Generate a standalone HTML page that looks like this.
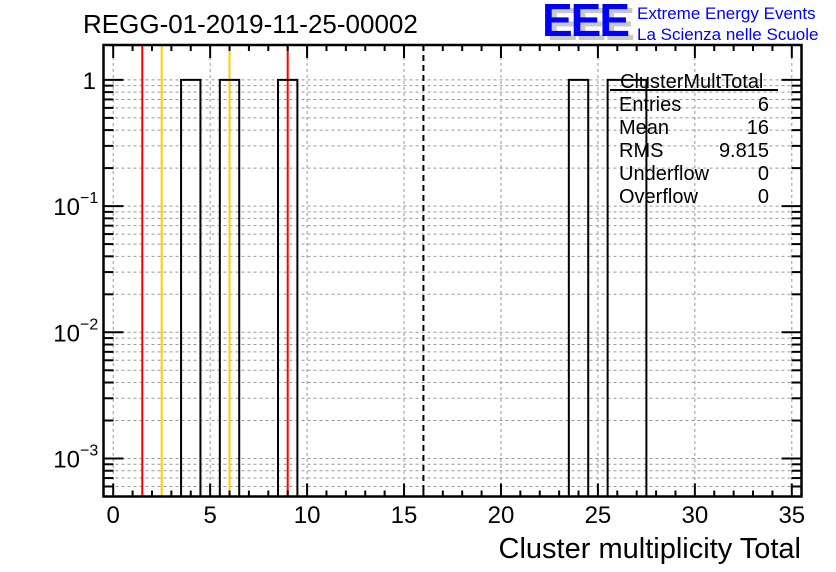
<!DOCTYPE html>
<html><head><meta charset="utf-8"><style>
html,body{margin:0;padding:0;background:#fff;}
svg{display:block;font-family:"Liberation Sans",sans-serif;}
</style></head><body>
<svg id="c" width="836" height="572" viewBox="0 0 836 572">
<rect width="836" height="572" fill="#fff"/>
<text x="83" y="33" font-size="26">REGG-01-2019-11-25-00002</text>
<g>
<text x="547" y="40" font-size="46" font-weight="bold" fill="#c8c8c8" letter-spacing="-2">EEE</text>
<text x="542" y="36" font-size="46" font-weight="bold" fill="#0000ff" letter-spacing="-2">EEE</text>
<text x="637" y="19" font-size="17" fill="#0000ff">Extreme Energy Events</text>
<text x="637" y="40" font-size="17" fill="#0000ff">La Scienza nelle Scuole</text>
</g>
<g id="grid"></g><g id="marks"></g><g id="axes"></g>
<g font-size="20">
<text x="620" y="88">ClusterMultTotal</text>
<line x1="610" y1="90" x2="778" y2="90" stroke="#000" stroke-width="2"/>
<text x="619" y="111">Entries</text><text x="769" y="111" text-anchor="end">6</text>
<text x="619" y="134">Mean</text><text x="769" y="134" text-anchor="end">16</text>
<text x="619" y="157">RMS</text><text x="769" y="157" text-anchor="end">9.815</text>
<text x="619" y="180">Underflow</text><text x="769" y="180" text-anchor="end">0</text>
<text x="619" y="203">Overflow</text><text x="769" y="203" text-anchor="end">0</text>
</g>
<text x="801" y="558" font-size="29" text-anchor="end">Cluster multiplicity Total</text>
</svg>
<script>
const binCenters=[4,6,9,24,26,27];
const binCounts=[1,1,1,1,1,1];
const redLines=[1.5,9];
const yellowLines=[2.5,6];
const meanLine=[16];
const xTickLabels=[0,5,10,15,20,25,30,35];
const yDecades=[-3,-2,-1,0];
const yDecadeLabels=["10","10","10","1"];

const L=103.5,R=801.5,T=45,B=496.5,XMIN=-0.5,XMAX=35.5;
const YTOP=Math.log10(1.89),YBOT=Math.log10(5e-4);
const X=v=>L+(v-XMIN)/(XMAX-XMIN)*(R-L);
const Y=v=>T+(YTOP-Math.log10(v))/(YTOP-YBOT)*(B-T);
const NS="http://www.w3.org/2000/svg";
function mk(tag,parent,attrs){const e=document.createElementNS(NS,tag);for(const k in attrs)e.setAttribute(k,attrs[k]);document.getElementById(parent).appendChild(e);return e;}

xTickLabels.forEach(v=>{const e=mk('line','grid',{x1:X(v),x2:X(v),y1:T,y2:B,stroke:'#999','stroke-dasharray':'3,3','stroke-width':1});

});
const yMinor=[];
for(let d=-4;d<=0;d++)for(let m=1;m<=9;m++){const v=m*Math.pow(10,d);if(v>=5e-4&&v<=1.89)yMinor.push([v,m===1]);}
yMinor.forEach(([v])=>{const e=mk('line','grid',{x1:L,x2:R,y1:Y(v),y2:Y(v),stroke:'#999','stroke-dasharray':'3,3','stroke-width':1});

});

redLines.forEach(v=>{const e=mk('line','marks',{x1:X(v),x2:X(v),y1:T,y2:B,stroke:'#ff0000','stroke-width':2});

});
yellowLines.forEach(v=>{const e=mk('line','marks',{x1:X(v),x2:X(v),y1:T,y2:B,stroke:'#ffcc00','stroke-width':2});

});
meanLine.forEach(v=>{const e=mk('line','marks',{x1:X(v),x2:X(v),y1:T,y2:B,stroke:'#000','stroke-dasharray':'6,4','stroke-width':2});

});

let d='';
let i=0;
while(i<binCenters.length){
  let j=i;while(j+1<binCenters.length&&binCenters[j+1]===binCenters[j]+1)j++;
  d+=`M${X(binCenters[i]-0.5)},${B}`;
  for(let k=i;k<=j;k++){d+=`L${X(binCenters[k]-0.5)},${Y(binCounts[k])}L${X(binCenters[k]+0.5)},${Y(binCounts[k])}`;}
  d+=`L${X(binCenters[j]+0.5)},${B}`;
  i=j+1;
}
const h=mk('path','marks',{d:d,fill:'none',stroke:'#000','stroke-width':2});



const f=mk('rect','axes',{x:L,y:T,width:R-L,height:B-T,fill:'none',stroke:'#000','stroke-width':2.5});


for(let v=0;v<=35;v++){const len=v%5===0?13:6;
 mk('line','axes',{x1:X(v),x2:X(v),y1:B,y2:B-len,stroke:'#000','stroke-width':2});
 mk('line','axes',{x1:X(v),x2:X(v),y1:T,y2:T+len,stroke:'#000','stroke-width':2});}
yMinor.forEach(([v,maj])=>{const len=maj?20:10;
 mk('line','axes',{x1:L,x2:L+len,y1:Y(v),y2:Y(v),stroke:'#000','stroke-width':2});
 mk('line','axes',{x1:R,x2:R-len,y1:Y(v),y2:Y(v),stroke:'#000','stroke-width':2});});
xTickLabels.forEach(v=>{const t=mk('text','axes',{x:X(v),y:523,'font-size':24,'text-anchor':'middle'});t.textContent=v;

});
yDecades.forEach((dv,k)=>{const y=Y(Math.pow(10,dv));
 const t=mk('text','axes',{x:dv===0?96:80,y:y+9,'font-size':24,'text-anchor':'end'});t.textContent=yDecadeLabels[k];
 
 
 if(dv!==0){const s=mk('text','axes',{x:80,y:y-3,'font-size':16});s.textContent='\u2212'+Math.abs(dv);
 
 }});
</script>
</body></html>
